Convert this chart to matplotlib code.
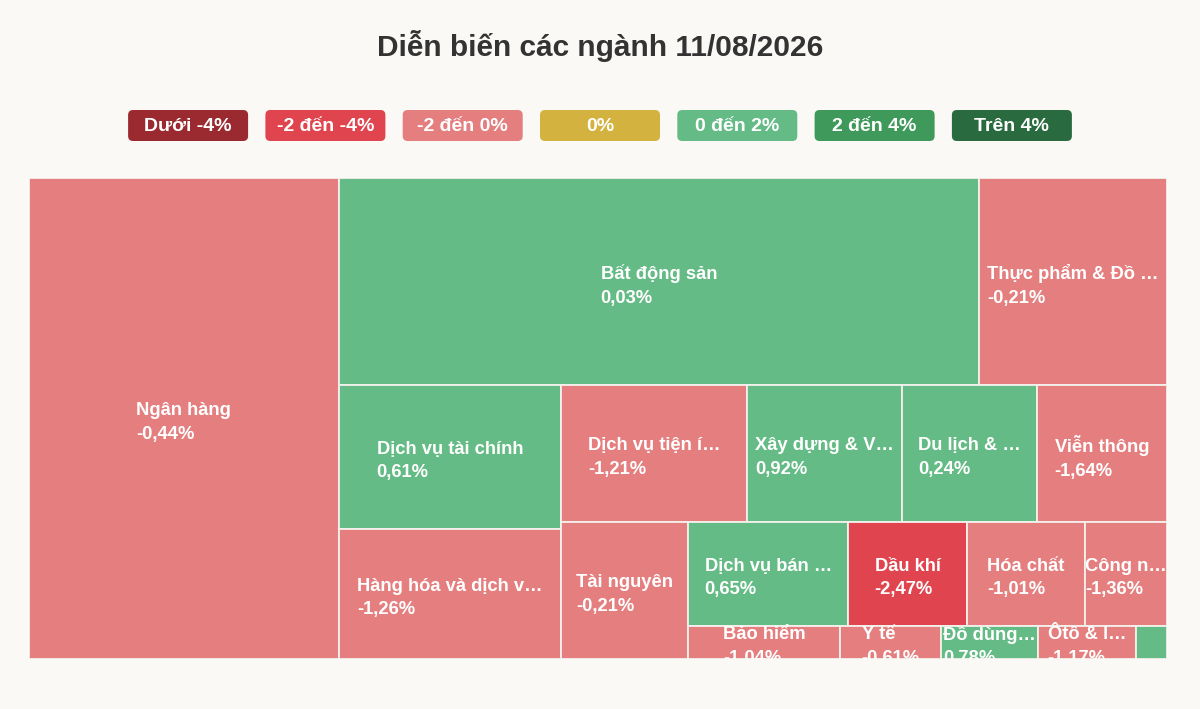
import matplotlib
matplotlib.use("Agg")
import matplotlib.pyplot as plt
from matplotlib.patches import Rectangle, FancyBboxPatch

# sector weights (relative market cap) and daily change in %
sectors = ["Ngân hàng", "Bất động sản", "Thực phẩm & Đồ …", "Dịch vụ tài chính",
           "Hàng hóa và dịch v…", "Dịch vụ tiện í…", "Xây dựng & V…", "Du lịch & …",
           "Viễn thông", "Tài nguyên", "Dịch vụ bán …", "Dầu khí", "Hóa chất",
           "Công n…", "Bảo hiểm", "Y tế", "Đồ dùng…", "Ôtô & l…", "Truyền thông"]
weights = [27.2, 24.2, 7.1, 5.85, 5.3, 4.65, 3.9, 3.37, 3.26, 3.18, 3.03,
           2.25, 2.24, 1.55, 0.92, 0.61, 0.59, 0.59, 0.19]
changes = [-0.44, 0.03, -0.21, 0.61, -1.26, -1.21, 0.92, 0.24, -1.64, -0.21, 0.65,
           -2.47, -1.01, -1.36, -1.04, -0.61, 0.78, -1.17, 0.50]

# strip layout: items per strip and direction (C = column on left, R = row on top)
strip_counts = [1, 2, 2, 4, 1, 4, 5]
strip_dirs = "CRCRCRR"

legend_labels = ["Dưới -4%", "-2 đến -4%", "-2 đến 0%", "0%", "0 đến 2%", "2 đến 4%", "Trên 4%"]
legend_colors = ["#9a2a30", "#e0444e", "#e57f7f", "#d4b23f", "#65bb85", "#3f995b", "#2a6a3f"]

BG = "#faf9f5"


def color_for(v):
    if v < -4:
        return legend_colors[0]
    if v < -2:
        return legend_colors[1]
    if v < 0:
        return legend_colors[2]
    if v == 0:
        return legend_colors[3]
    if v <= 2:
        return legend_colors[4]
    if v <= 4:
        return legend_colors[5]
    return legend_colors[6]


def strip_layout(vals, counts, dirs, x0, y0, w, h):
    scale = w * h / sum(vals)
    rects = []
    i = 0
    for n, d in zip(counts, dirs):
        grp = vals[i:i + n]
        area = sum(grp) * scale
        if d == "C":
            cw = area / h
            yy = y0
            for v in grp:
                ch = v * scale / cw
                rects.append((x0, yy, cw, ch))
                yy += ch
            x0 += cw
            w -= cw
        else:
            rh = area / w
            xx = x0
            for v in grp:
                cw = v * scale / rh
                rects.append((xx, y0, cw, rh))
                xx += cw
            y0 += rh
            h -= rh
        i += n
    return rects


fig = plt.figure(figsize=(12, 7.09), dpi=100, facecolor=BG)

# overlay for title + legend, in pixel units
top = fig.add_axes([0, 0, 1, 1])
top.set_xlim(0, 1200)
top.set_ylim(709, 0)
top.axis("off")
top.text(600, 46, "Diễn biến các ngành 11/08/2026", ha="center", va="center",
         fontsize=21.5, fontweight="bold", color="#333333", family="Liberation Sans")

box_w, box_h, step = 120, 31, 137.3
for i, (lab, col) in enumerate(zip(legend_labels, legend_colors)):
    cx = 600 + (i - 3) * step
    top.add_patch(FancyBboxPatch((cx - box_w / 2, 125.5 - box_h / 2), box_w, box_h,
                                 boxstyle="round,pad=0,rounding_size=5",
                                 fc=col, ec="none"))
    top.text(cx, 126.5, lab, ha="center", va="center", fontsize=14,
             fontweight="bold", color="white", family="Liberation Sans")

# treemap
W, H = 1138, 481
ax = fig.add_axes([29 / 1200, (709 - 659) / 709, W / 1200, H / 709])
ax.set_xlim(0, W)
ax.set_ylim(H, 0)
ax.axis("off")

rects = strip_layout(weights, strip_counts, strip_dirs, 0, 0, W, H)
for (x, y, w, h), name, chg in zip(rects, sectors, changes):
    ax.add_patch(Rectangle((x, y), w, h, fc=color_for(chg), ec="#f4f1ec", lw=1.3))
    if w < 40:
        continue
    label = f"{name}\n{chg:.2f}%".replace(".", ",")
    ax.text(x + w / 2, y + h / 2 + 4, label, ha="center", va="center",
            multialignment="left", fontsize=13.2, fontweight="bold", color="white",
            linespacing=1.5, family="Liberation Sans", clip_on=True)

fig.savefig("out.png", dpi=100, facecolor=BG)
